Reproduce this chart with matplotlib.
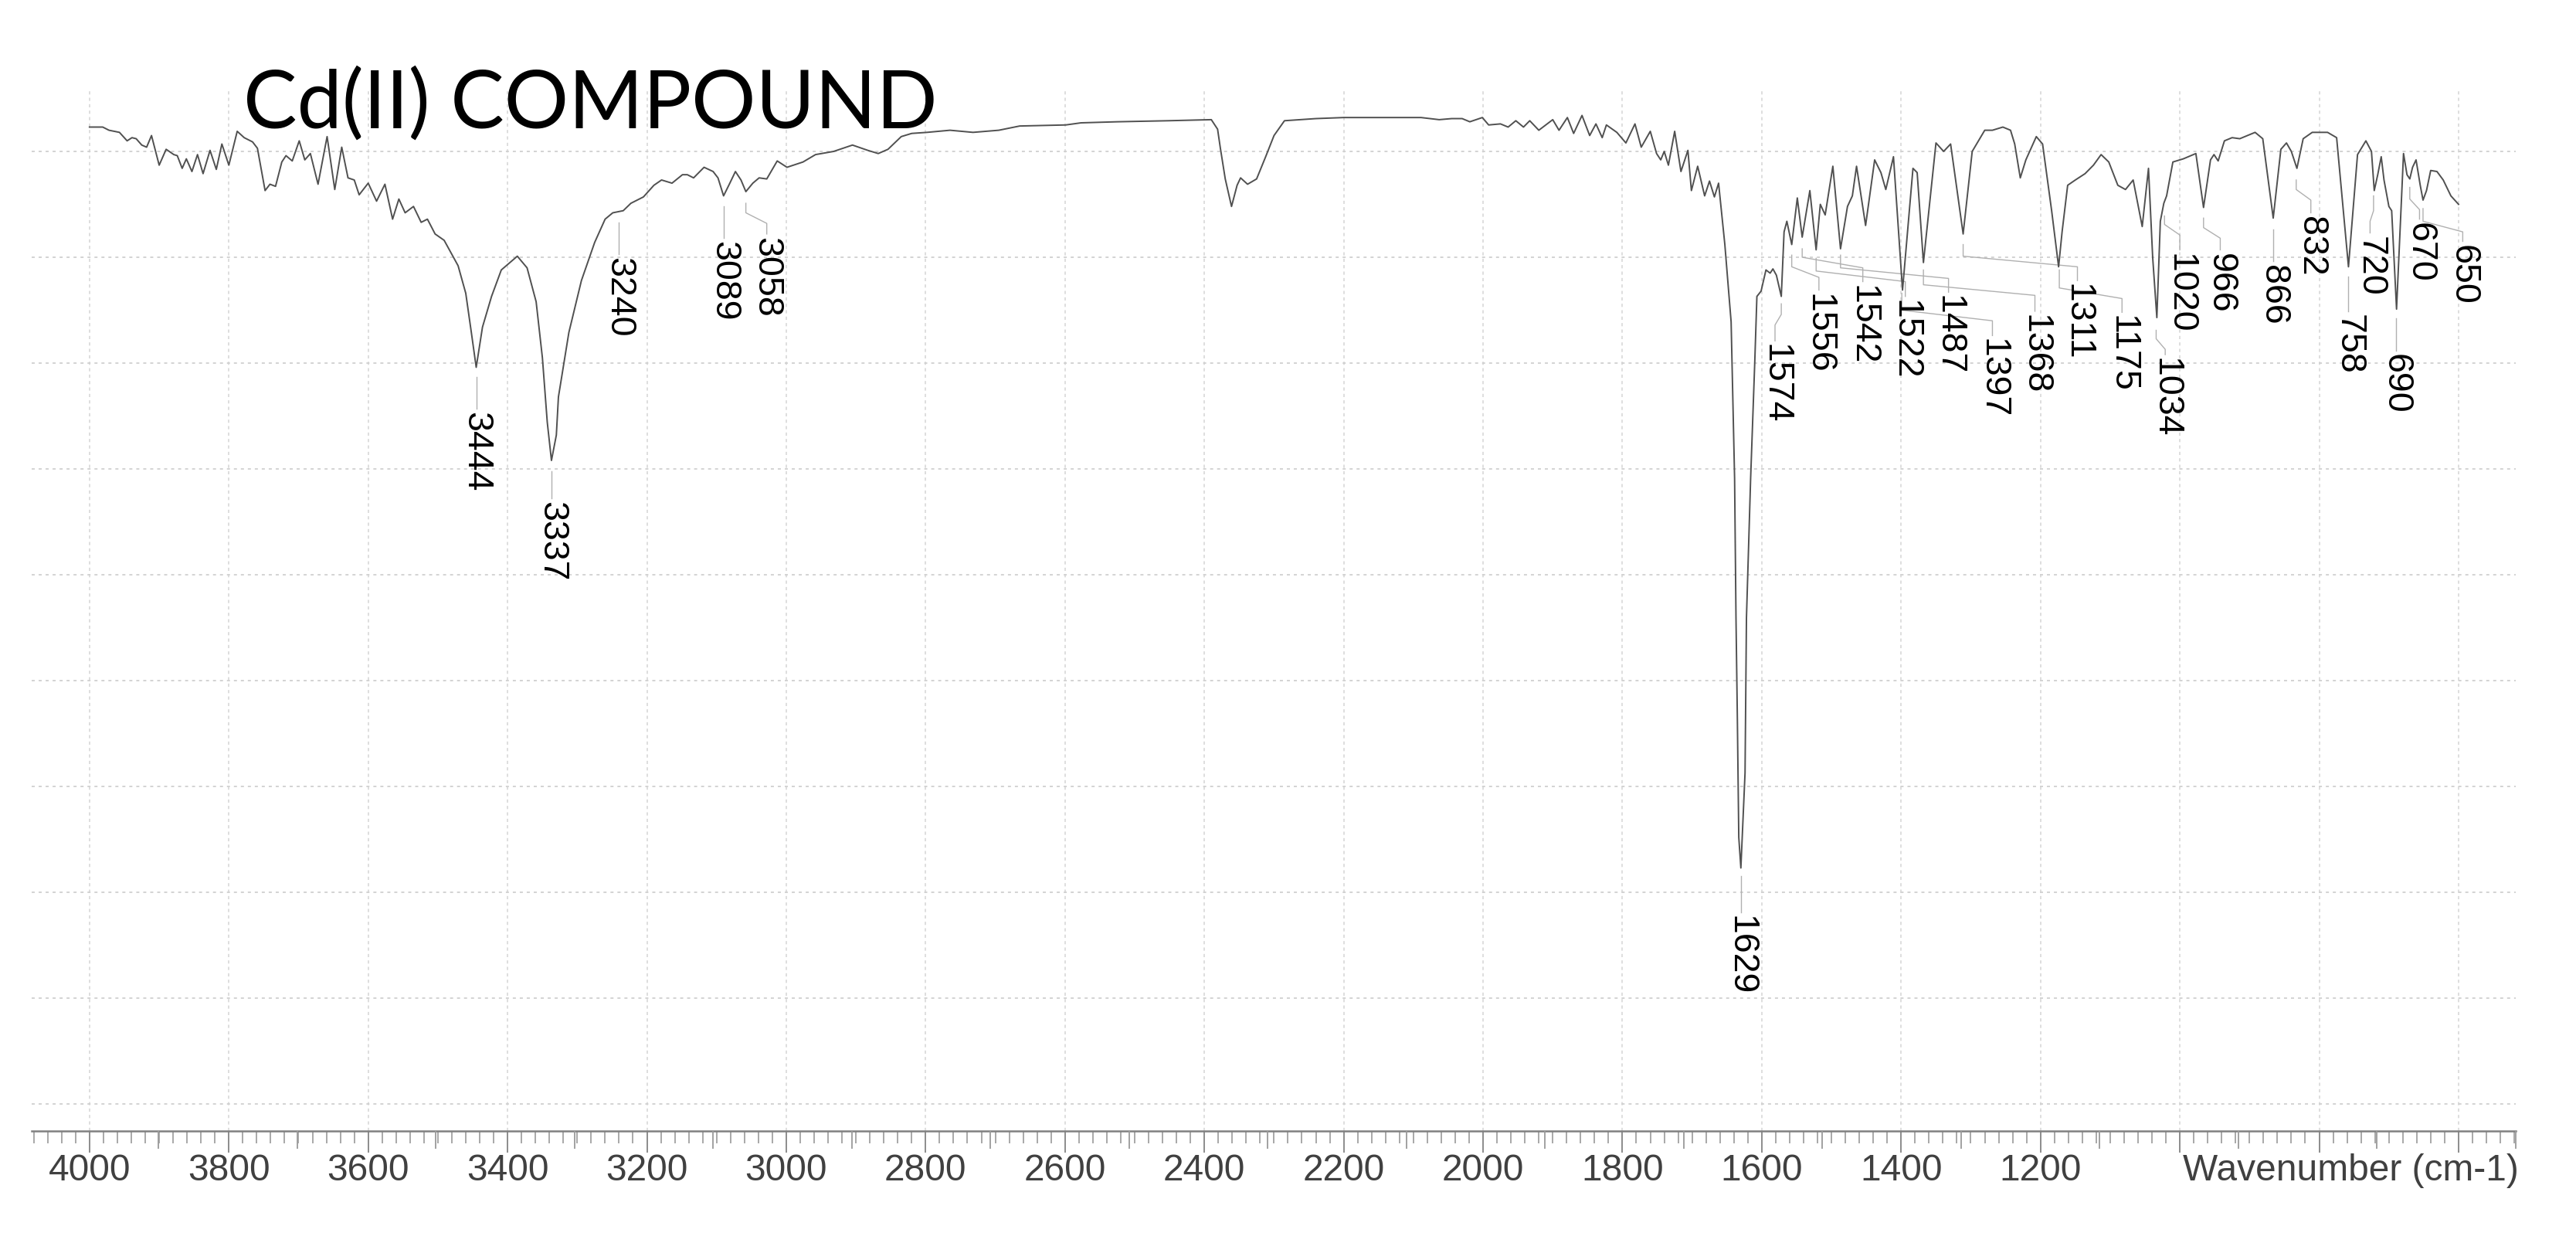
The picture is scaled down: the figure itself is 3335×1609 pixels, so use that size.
import matplotlib
matplotlib.use('Agg')
import matplotlib.pyplot as plt

# IR spectrum: wavenumber (cm-1) and transmittance (arb. %T)
wavenumber = [
    4000, 3981, 3972, 3957, 3946, 3939, 3933, 3925, 3918, 3911, 3900, 3890, 3879, 3874,
    3867, 3861, 3853, 3845, 3837, 3827, 3818, 3810, 3800, 3788, 3778, 3766, 3759, 3748,
    3741, 3733, 3724, 3718, 3709, 3699, 3691, 3683, 3672, 3659, 3648, 3638, 3629, 3620,
    3613, 3600, 3588, 3576, 3565, 3556, 3547, 3535, 3524, 3515, 3504, 3491, 3471, 3460,
    3452, 3445, 3436, 3423, 3409, 3386, 3372, 3359, 3350, 3343, 3337, 3330, 3327, 3312,
    3294, 3275, 3260, 3249, 3234, 3223, 3205, 3190, 3179, 3164, 3149, 3142, 3133, 3118,
    3105, 3098, 3090, 3081, 3073, 3065, 3058, 3048, 3039, 3028, 3013, 2999, 2976, 2958,
    2932, 2905, 2883, 2868, 2854, 2835, 2820, 2798, 2765, 2732, 2695, 2665, 2599, 2577,
    2525, 2451, 2390, 2381, 2377, 2370, 2361, 2353, 2348, 2338, 2325, 2312, 2300, 2285,
    2240, 2200, 2089, 2063, 2045, 2030, 2019, 2001, 1992, 1975, 1964, 1953, 1942, 1933,
    1920, 1900, 1891, 1879, 1870, 1858, 1847, 1838, 1829, 1823, 1808, 1795, 1782, 1773,
    1760, 1751, 1745, 1740, 1734, 1725, 1716, 1706, 1701, 1692, 1682, 1675, 1668, 1662,
    1653, 1644, 1639, 1637, 1635, 1633, 1630, 1624, 1622, 1616, 1610, 1607, 1601, 1594,
    1588, 1584, 1579, 1572, 1568, 1564, 1557, 1549, 1542, 1531, 1522, 1516, 1509, 1498,
    1487, 1477, 1470, 1464, 1451, 1438, 1429, 1422, 1411, 1398, 1383, 1377, 1368, 1350,
    1339, 1329, 1311, 1298, 1280, 1269, 1254, 1243, 1237, 1229, 1221, 1206, 1197, 1184,
    1174, 1169, 1161, 1150, 1136, 1124, 1113, 1102, 1089, 1078, 1067, 1054, 1045, 1039,
    1033, 1028, 1023, 1019, 1010, 995, 977, 966, 956, 951, 945, 936, 925, 914,
    892, 881, 866, 855, 847, 840, 832, 823, 810, 788, 775, 758, 745, 733,
    725, 721, 716, 711, 707, 700, 696, 689, 684, 679, 674, 670, 666, 661,
    655, 651, 646, 640, 631, 622, 611, 600,
]
transmittance = [
    102.3, 102.3, 102.0, 101.8, 101.0, 101.3, 101.2, 100.6, 100.4, 101.5, 98.7, 100.2, 99.7, 99.6,
    98.4, 99.3, 98.1, 99.7, 97.9, 100.1, 98.3, 100.7, 98.7, 101.9, 101.3, 100.9, 100.3, 96.3,
    96.9, 96.7, 99.0, 99.6, 99.1, 101.0, 99.2, 99.8, 96.9, 101.4, 96.4, 100.4, 97.5, 97.3,
    95.9, 97.0, 95.3, 96.9, 93.6, 95.5, 94.2, 94.8, 93.3, 93.6, 92.2, 91.6, 89.2, 86.6,
    82.9, 79.6, 83.4, 86.3, 88.8, 90.1, 89.0, 85.8, 80.5, 74.4, 70.8, 73.2, 76.8, 82.9,
    87.8, 91.4, 93.6, 94.2, 94.4, 95.1, 95.7, 96.8, 97.3, 97.0, 97.8, 97.8, 97.5, 98.5,
    98.1, 97.5, 95.8, 97.0, 98.1, 97.3, 96.2, 97.0, 97.5, 97.4, 99.1, 98.5, 99.0, 99.7,
    100.0, 100.6, 100.1, 99.8, 100.2, 101.4, 101.7, 101.8, 102.0, 101.8, 102.0, 102.4, 102.5, 102.7,
    102.8, 102.9, 103.0, 102.1, 100.3, 97.4, 94.8, 96.8, 97.5, 96.9, 97.4, 99.5, 101.5, 102.9,
    103.1, 103.2, 103.2, 103.0, 103.1, 103.1, 102.8, 103.2, 102.5, 102.6, 102.3, 102.9, 102.3, 102.9,
    102.0, 103.0, 102.0, 103.2, 101.7, 103.4, 101.5, 102.6, 101.3, 102.5, 101.8, 100.8, 102.6, 100.4,
    101.9, 99.8, 99.2, 100.0, 98.7, 101.9, 98.1, 100.1, 96.3, 98.6, 95.8, 97.2, 95.7, 97.0,
    91.2, 83.9, 69.1, 55.9, 46.2, 35.2, 32.3, 41.3, 55.9, 69.1, 80.2, 86.3, 86.8, 88.8,
    88.5, 88.9, 88.3, 86.3, 92.4, 93.4, 91.2, 95.6, 91.9, 96.3, 90.7, 95.0, 94.0, 98.6,
    90.8, 94.8, 95.8, 98.6, 93.0, 99.2, 98.0, 96.4, 99.5, 86.9, 98.4, 98.0, 89.5, 100.8,
    100.0, 100.7, 92.2, 100.0, 102.0, 102.0, 102.3, 102.0, 100.7, 97.5, 99.2, 101.4, 100.7, 94.4,
    89.1, 92.4, 96.8, 97.3, 97.9, 98.7, 99.7, 99.0, 96.8, 96.4, 97.3, 92.9, 98.4, 90.0,
    84.3, 93.4, 95.1, 95.8, 99.0, 99.3, 99.8, 94.7, 99.2, 99.7, 99.1, 101.0, 101.3, 101.2,
    101.8, 101.2, 93.7, 100.2, 100.8, 100.0, 98.4, 101.2, 101.8, 101.8, 101.3, 89.1, 99.7, 101.0,
    100.0, 96.3, 97.8, 99.5, 97.3, 94.8, 94.4, 85.1, 92.4, 99.8, 97.8, 97.4, 98.5, 99.2,
    96.8, 95.4, 96.3, 98.2, 98.1, 97.3, 95.8, 95.0,
]

# peak labels and their leader lines
peak_text = ['3444', '3337', '3240', '3089', '3058', '1629', '1574', '1556', '1542', '1522',
             '1487', '1397', '1368', '1311', '1175', '1034', '1020', '966', '866', '832',
             '758', '720', '690', '670', '650']
peak_wn = [3445, 3337, 3240, 3090, 3058, 1630, 1572, 1557, 1542, 1522,
           1487, 1399, 1368, 1311, 1173, 1034, 1022, 966, 866, 833,
           758, 722, 690, 670, 651]
lead_start = [78.7, 69.8, 93.3, 94.8, 95.1, 31.5, 85.6, 90.2, 90.8, 89.9,
              90.2, 86.6, 88.8, 91.2, 88.8, 83.1, 93.9, 93.7, 92.6, 97.3,
              88.2, 95.8, 84.2, 96.6, 94.6]
lead_bend = [78.7, 69.8, 93.3, 94.8, 94.2, 31.5, 84.6, 89.1, 90.0, 88.7,
             89.0, 85.0, 87.4, 90.1, 87.1, 82.3, 93.1, 92.8, 92.6, 96.4,
             88.2, 94.4, 84.2, 95.5, 93.4]
label_wn = [3445, 3337, 3240, 3090, 3028, 1630, 1581, 1518, 1455, 1394,
            1332, 1269, 1208, 1147, 1083, 1021, 1000, 942, 866, 812,
            758, 727, 690, 656, 594]
label_top = [75.4, 66.9, 90.0, 91.5, 91.9, 27.8, 81.8, 86.6, 87.4, 86.0,
             86.4, 82.3, 84.6, 87.5, 84.5, 80.5, 90.4, 90.4, 89.3, 93.9,
             84.6, 92.0, 80.9, 93.3, 91.2]

major_ticks = list(range(4000, 599, -200))
major_labels = [str(t) if t >= 1200 else '' for t in major_ticks]
mid_ticks = list(range(3900, 499, -200))

fig = plt.figure(figsize=(33.35, 16.09), dpi=100)
ax = fig.add_axes([0.01229, 0.09012, 0.9643, 0.8372])

ax.plot(wavenumber, transmittance, color='#505050', lw=1.4, zorder=3)

for txt, pw, st, bd, lx, lt in zip(peak_text, peak_wn, lead_start, lead_bend, label_wn, label_top):
    ax.plot([pw, pw, lx, lx], [st, bd, bd - 1.0, lt + 0.3], color='#b0b0b0', lw=1.0, zorder=2)
    ax.text(lx, lt, txt, rotation=-90, ha='center', va='top', fontsize=33.5,
            family='Liberation Sans', color='black', zorder=4)

ax.set_xlim(4083, 518)
ax.set_ylim(7.45, 105.77)

ax.set_xticks(major_ticks)
ax.set_xticklabels(major_labels)
ax.set_xticks(list(range(4080, 519, -20)), minor=True)
ax.set_yticks(list(range(10, 101, 10)))
ax.tick_params(axis='y', left=False, labelleft=False)
ax.tick_params(axis='x', which='major', length=20, width=1.4, color='#8c8c8c',
               labelsize=34.5, labelcolor='#404040', pad=1)
ax.tick_params(axis='x', which='minor', length=11.5, width=1.2, color='#9a9a9a')
for lab in ax.get_xticklabels():
    lab.set_family('Liberation Sans')

ax.grid(axis='y', ls=(0, (2.2, 2.8)), color='#d0d0d0', lw=1.3)
ax.grid(axis='x', which='major', ls=(0, (2.5, 2.5)), color='#d8d8d8', lw=1.2)

for side in ['left', 'right', 'top']:
    ax.spines[side].set_visible(False)
ax.spines['bottom'].set_color('#808080')
ax.spines['bottom'].set_linewidth(1.8)

# medium ticks at the odd hundreds
ax2 = ax.twiny()
ax2.set_xlim(ax.get_xlim())
ax2.xaxis.set_ticks_position('bottom')
ax2.set_xticks(mid_ticks)
ax2.tick_params(axis='x', length=16.5, width=1.3, color='#9a9a9a',
                labelbottom=False, labeltop=False, top=False)
for s in ax2.spines.values():
    s.set_visible(False)

ax.annotate('Wavenumber (cm-1)', xy=(1, 0), xycoords='axes fraction',
            xytext=(3, -21.2), textcoords='offset points', ha='right', va='top',
            fontsize=34.5, family='Liberation Sans', color='#404040')

fig.text(315 / 3335, 1 - 166 / 1609, 'Cd(II) COMPOUND', fontsize=75,
         family='Lato', color='black', va='baseline', ha='left')

fig.savefig('out.png', dpi=100)
